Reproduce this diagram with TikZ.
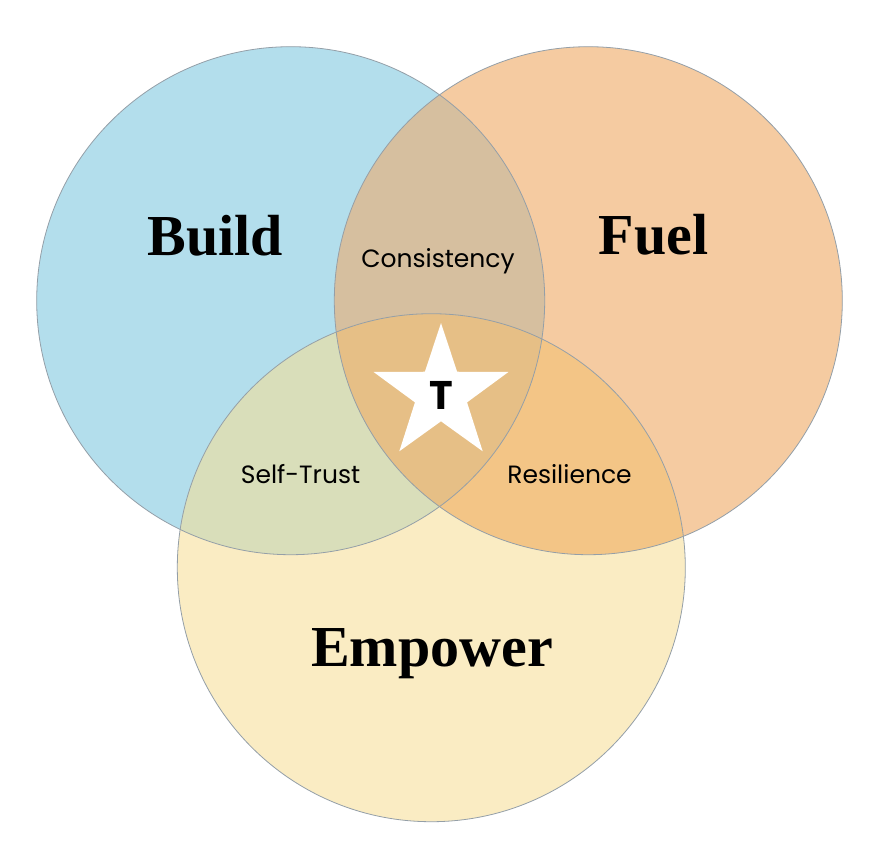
\documentclass[tikz,border=0pt]{standalone}
\usepackage{fontspec}
\usetikzlibrary{calc}
\setmainfont{Liberation Serif}
\newfontfamily\labelfont{Poppins}
\definecolor{cblue}{HTML}{B3DEEC}
\definecolor{corange}{HTML}{F5CBA1}
\definecolor{cyellow}{HTML}{FAECC3}
\definecolor{cbo}{HTML}{D6BF9F}
\definecolor{cby}{HTML}{D9DEBA}
\definecolor{coy}{HTML}{F3C586}
\definecolor{call}{HTML}{E6BF86}
\definecolor{cline}{HTML}{949FA8}
\tikzset{
  title/.style={anchor=base, font=\fontsize{58}{62}\selectfont\bfseries, text=black},
  lbl/.style={font=\labelfont\fontsize{25}{29}\selectfont, text=black},
  outline/.style={draw=cline, line width=0.8pt},
}
\begin{document}
\begin{tikzpicture}[x=1pt,y=-1pt]
\useasboundingbox (0,0) rectangle (878,852);
\fill[white] (0,0) rectangle (878,852);
\coordinate (B) at (290.7,300.7);
\coordinate (F) at (588.3,300.7);
\coordinate (E) at (431.3,567.7);
\def\R{254}
% base fills
\fill[cblue] (B) circle[radius=\R];
\fill[corange] (F) circle[radius=\R];
\fill[cyellow] (E) circle[radius=\R];
% pairwise overlaps
\begin{scope}
  \clip (B) circle[radius=\R];
  \fill[cbo] (F) circle[radius=\R];
  \fill[cby] (E) circle[radius=\R];
\end{scope}
\begin{scope}
  \clip (F) circle[radius=\R];
  \fill[coy] (E) circle[radius=\R];
\end{scope}
\begin{scope}
  \clip (B) circle[radius=\R];
  \clip (F) circle[radius=\R];
  \fill[call] (E) circle[radius=\R];
\end{scope}
% outlines
\draw[outline] (B) circle[radius=\R];
\draw[outline] (F) circle[radius=\R];
\draw[outline] (E) circle[radius=\R];
% star
\coordinate (S) at (441,393.9);
\fill[white]
  ($(S)+(-90:70.9)$) -- ($(S)+(-54:27.4)$) --
  ($(S)+(-18:70.9)$) -- ($(S)+(18:27.4)$) --
  ($(S)+(54:70.9)$) -- ($(S)+(90:27.4)$) --
  ($(S)+(126:70.9)$) -- ($(S)+(162:27.4)$) --
  ($(S)+(198:70.9)$) -- ($(S)+(234:27.4)$) -- cycle;
\node[font=\labelfont\bfseries\fontsize{40}{44}\selectfont, anchor=base] (t) at (441,409) {T};
% titles
\node[title] (build) at (215.5,255) {Build};
\node[title] (fuel) at (653.5,254.5) {Fuel};
\node[title] (empower) at (432,666.7) {Empower};
% labels
\node[lbl, anchor=base] (cons) at (438,267) {Consistency};
\node[lbl, anchor=base] (self) at (300.5,483) {Self-Trust};
\node[lbl, anchor=base] (res) at (569.5,483) {Resilience};
\end{tikzpicture}
\end{document}
